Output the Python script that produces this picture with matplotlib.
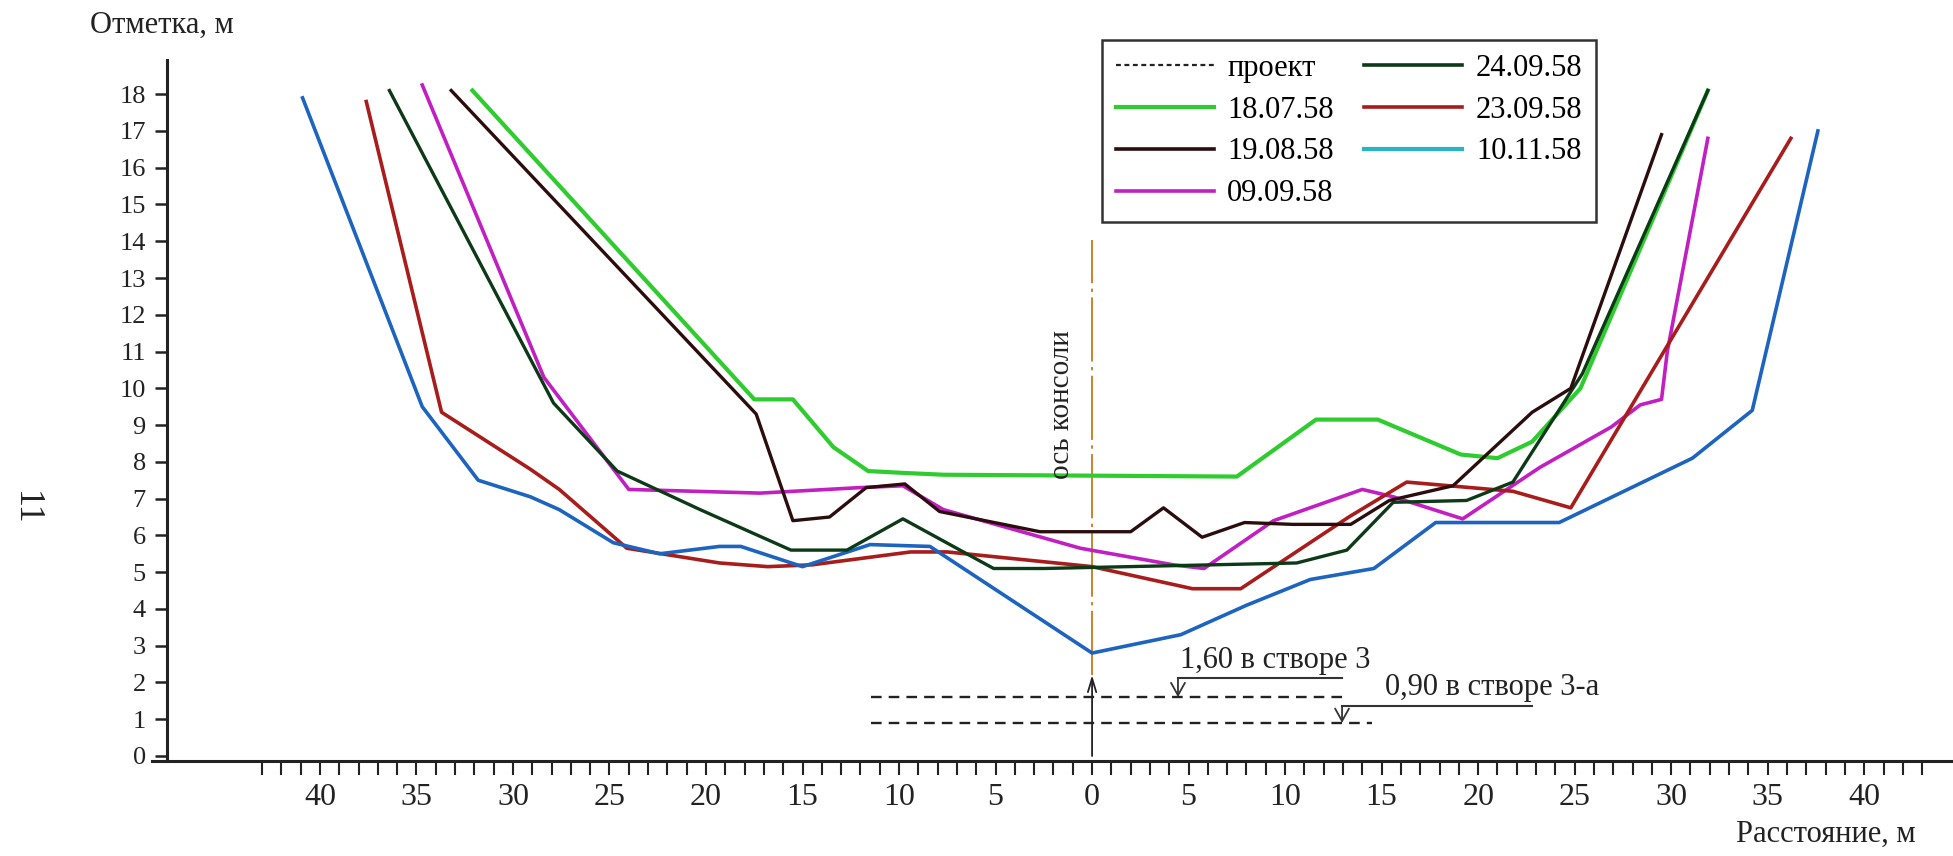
import matplotlib.pyplot as plt
from matplotlib.lines import Line2D

plt.rcParams['font.family'] = ['Liberation Serif', 'DejaVu Serif']

# промеры дна: расстояние от оси консоли, м (слева минус) и отметка, м
x_1807 = [-32.1, -17.5, -15.5, -13.4, -11.6, -9.8, -7.7, 7.5, 11.6, 14.8, 19.1, 21.0, 22.8, 25.3, 31.9]
y_1807 = [18.1, 9.7, 9.7, 8.4, 7.75, 7.7, 7.65, 7.6, 9.15, 9.15, 8.2, 8.1, 8.55, 10.0, 18.1]

x_1908 = [-33.2, -17.4, -15.5, -13.6, -11.7, -9.7, -7.9, -2.7, 2.0, 3.7, 5.7, 7.9, 10.4, 13.4, 15.4, 18.7, 22.8, 24.8, 29.5]
y_1908 = [18.1, 9.3, 6.4, 6.5, 7.3, 7.4, 6.65, 6.1, 6.1, 6.75, 5.95, 6.35, 6.3, 6.3, 6.95, 7.35, 9.35, 10.0, 16.9]

x_0909 = [-34.7, -28.4, -24.0, -17.2, -12.0, -9.8, -7.7, -0.6, 4.2, 5.8, 9.4, 14.0, 15.6, 19.2, 23.2, 26.9, 28.4, 29.5, 29.8, 31.9]
y_0909 = [18.25, 10.3, 7.25, 7.15, 7.3, 7.35, 6.7, 5.65, 5.2, 5.1, 6.4, 7.25, 7.05, 6.45, 7.85, 8.95, 9.55, 9.7, 11.0, 16.8]

x_2409 = [-36.4, -27.9, -24.6, -20.3, -15.6, -12.7, -9.8, -5.1, -2.5, 10.6, 13.2, 15.6, 19.4, 21.8, 25.4, 31.9]
y_2409 = [18.1, 9.6, 7.75, 6.7, 5.6, 5.6, 6.45, 5.1, 5.1, 5.25, 5.6, 6.9, 6.95, 7.45, 10.4, 18.1]

x_2309 = [-37.6, -33.7, -29.1, -27.6, -24.1, -19.3, -16.8, -14.5, -9.4, -7.5, 0.0, 5.2, 7.7, 13.3, 16.3, 17.4, 21.8, 24.8, 36.2]
y_2309 = [17.8, 9.35, 7.8, 7.25, 5.65, 5.25, 5.15, 5.2, 5.55, 5.55, 5.15, 4.55, 4.55, 6.5, 7.45, 7.4, 7.2, 6.75, 16.8]

x_1011 = [-40.9, -34.7, -31.8, -29.1, -27.6, -24.8, -22.4, -19.3, -18.2, -15.0, -11.5, -8.4, 0.0, 4.6, 8.0, 11.3, 14.6, 17.8, 24.2, 31.1, 34.2, 37.6]
y_1011 = [17.9, 9.5, 7.5, 7.05, 6.7, 5.8, 5.5, 5.7, 5.7, 5.15, 5.75, 5.7, 2.8, 3.3, 4.1, 4.8, 5.1, 6.35, 6.35, 8.1, 9.4, 17.0]

# проектные отметки дна в створах 3 и 3-а
proj_levels = [1.60, 0.90]
proj_x0 = [-11.45, -11.45]
proj_x1 = [13.2, 14.5]

x_ticks = list(range(-40, 41, 5))
x_labels = [str(abs(v)) for v in x_ticks]
y_ticks = list(range(0, 19))

fig = plt.figure(figsize=(19.53, 8.56), dpi=100)
ax = fig.add_axes([152 / 1953, 95 / 856, 1801 / 1953, 701 / 856])
ax.set_xlim(-48.7, 44.6)
ax.set_ylim(-0.136, 18.93)

for s in ['top', 'right']:
    ax.spines[s].set_visible(False)
ax.spines['left'].set_position(('data', -47.9))
ax.spines['left'].set_linewidth(2.2)
ax.spines['bottom'].set_linewidth(2.2)
ax.spines['left'].set_color('#222222')
ax.spines['bottom'].set_color('#222222')

ax.set_yticks(y_ticks)
ax.set_yticklabels([str(v) for v in y_ticks])
ax.tick_params(axis='y', direction='out', length=8.6, width=1.8, pad=7,
               labelsize=19, colors='#222222')
ax.set_xticks(x_ticks)
ax.set_xticklabels(x_labels)
ax.set_xticks(range(-43, 44), minor=True)
ax.tick_params(axis='x', which='both', direction='out', length=10, width=1.5,
               pad=6, labelsize=23, colors='#222222')

# профили
ax.plot(x_1807, y_1807, color='#2ecc2e', lw=3.0, zorder=3)
ax.plot(x_2409, y_2409, color='#0c3a16', lw=2.4, zorder=4)
ax.plot(x_1908, y_1908, color='#2b0d0d', lw=2.4, zorder=4)
ax.plot(x_0909, y_0909, color='#c21fc2', lw=2.6, zorder=3)
ax.plot(x_2309, y_2309, color='#a81c1c', lw=2.6, zorder=3)
ax.plot(x_1011, y_1011, color='#1c64c0', lw=2.6, zorder=3)

# ось консоли
ax.plot([0, 0], [2.2, 14.04], color='#c8832e', lw=1.4,
        ls=(0, (33, 2.8, 1.7, 2.8)), zorder=2)
ax.text(-1.55, 9.55, 'ось консоли', rotation=90, ha='center', va='center',
        fontsize=21, color='#222222')
ax.annotate('', xy=(0, 2.2), xytext=(0, 0),
            arrowprops=dict(arrowstyle='->, head_length=0.5, head_width=0.15',
                            lw=1.3, color='#222222', shrinkA=0, shrinkB=0,
                            mutation_scale=20))

# проектные отметки
for lvl, a, b in zip(proj_levels, proj_x0, proj_x1):
    ax.plot([a, b], [lvl, lvl], color='#222222', lw=1.7, ls=(0, (4.5, 3)), zorder=2)

ax.plot([4.45, 12.95], [2.12, 2.12], color='#333333', lw=1.5)
ax.annotate('', xy=(4.45, proj_levels[0]), xytext=(4.45, 2.12),
            arrowprops=dict(arrowstyle='->, head_length=0.45, head_width=0.25',
                            lw=1.3, color='#333333', shrinkA=0, shrinkB=0,
                            mutation_scale=20))
ax.text(4.55, 2.39, '1,60 в створе 3', fontsize=22, color='#222222', va='baseline')

ax.plot([12.95, 22.8], [1.36, 1.36], color='#333333', lw=1.5)
ax.annotate('', xy=(12.95, proj_levels[1]), xytext=(12.95, 1.36),
            arrowprops=dict(arrowstyle='->, head_length=0.45, head_width=0.25',
                            lw=1.3, color='#333333', shrinkA=0, shrinkB=0,
                            mutation_scale=20))
ax.text(15.2, 1.66, '0,90 в створе 3-а', fontsize=22, color='#222222', va='baseline')

# подписи осей и номер страницы
fig.text(90 / 1953, 1 - 25 / 856, 'Отметка, м', fontsize=22, ha='left', va='center',
         color='#222222')
fig.text(1916 / 1953, 1 - 834 / 856, 'Расстояние, м', fontsize=22, ha='right',
         va='center', color='#222222')
fig.text(25 / 1953, 1 - 508 / 856, '11', fontsize=26, rotation=270, ha='center',
         va='center', color='#222222')

handles = [
    Line2D([], [], color='#222222', lw=1.6, ls=(0, (2.2, 1.6))),
    Line2D([], [], color='#2ecc2e', lw=3.0),
    Line2D([], [], color='#2b0d0d', lw=2.6),
    Line2D([], [], color='#c21fc2', lw=2.6),
    Line2D([], [], color='#0c3a16', lw=2.6),
    Line2D([], [], color='#a81c1c', lw=2.6),
    Line2D([], [], color='#2ab5c5', lw=3.0),
]
labels = ['проект', '18.07.58', '19.08.58', '09.09.58', '24.09.58', '23.09.58', '10.11.58']
leg = ax.legend(handles, labels, ncols=2, loc='upper left',
                bbox_to_anchor=(1102 / 1953, 1 - 40 / 856),
                bbox_transform=fig.transFigure, fancybox=False, framealpha=1,
                edgecolor='#333333', fontsize=22, handlelength=3.2,
                handletextpad=0.45, columnspacing=1.0, labelspacing=0.42,
                borderpad=0.45, borderaxespad=0)
leg.get_frame().set_linewidth(1.8)

fig.savefig('out.png', dpi=100)
